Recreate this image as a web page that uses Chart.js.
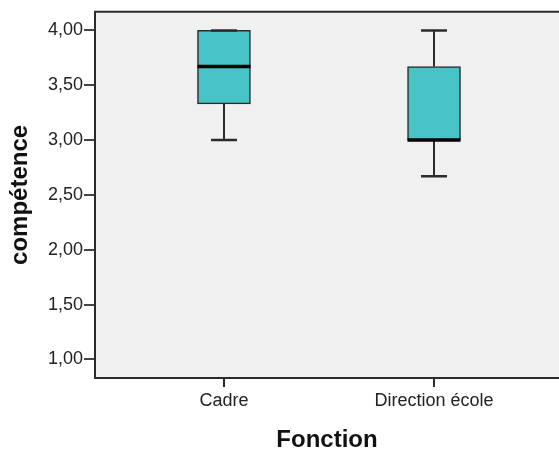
<!DOCTYPE html>
<html>
<head>
<meta charset="utf-8">
<script src="https://cdn.jsdelivr.net/npm/chart.js@4"></script>
<style>
  html, body { margin: 0; padding: 0; background: #fff; overflow: hidden; }
  #wrap { width: 559px; height: 452px; }
</style>
</head>
<body>
<div id="wrap"><canvas id="boxChart"></canvas></div>
<script>
// categories and five-number summaries
var categories = ["Cadre", "Direction école"];
var whiskerLow  = [3.00, 2.67];
var quart1      = [3.33, 3.00];
var medians     = [3.67, 3.00];
var quart3      = [4.00, 3.67];
var whiskerHigh = [4.00, 4.00];
var yTicks = [1.0, 1.5, 2.0, 2.5, 3.0, 3.5, 4.0];

var ink = '#2b2b2b';
var fam = 'Liberation Sans, Arial, sans-serif';

// plot background, frame, whiskers and medians, all placed through the scales
var boxParts = {
    id: 'boxParts',
    beforeDraw: function (chart) {
        var a = chart.chartArea, c = chart.ctx;
        c.save();
        c.fillStyle = '#f0f0f0';
        c.fillRect(a.left, a.top, a.right - a.left, a.bottom - a.top);
        c.restore();
    },
    beforeDatasetsDraw: function (chart) {
        var x = chart.scales.x, y = chart.scales.y, c = chart.ctx;
        c.save();
        c.strokeStyle = ink;
        c.lineWidth = 2;
        categories.forEach(function (cat, i) {
            var px = Math.round(x.getPixelForValue(i));
            c.beginPath();
            c.moveTo(px, y.getPixelForValue(whiskerHigh[i]));
            c.lineTo(px, y.getPixelForValue(quart3[i]));
            c.moveTo(px, y.getPixelForValue(quart1[i]));
            c.lineTo(px, y.getPixelForValue(whiskerLow[i]));
            c.stroke();
        });
        c.restore();
    },
    afterDatasetsDraw: function (chart) {
        var x = chart.scales.x, y = chart.scales.y, c = chart.ctx;
        c.save();
        categories.forEach(function (cat, i) {
            var px = Math.round(x.getPixelForValue(i));
            c.strokeStyle = ink;
            c.lineWidth = 2.5;
            c.beginPath();
            c.moveTo(px - 13, y.getPixelForValue(whiskerHigh[i]));
            c.lineTo(px + 13, y.getPixelForValue(whiskerHigh[i]));
            c.moveTo(px - 13, y.getPixelForValue(whiskerLow[i]));
            c.lineTo(px + 13, y.getPixelForValue(whiskerLow[i]));
            c.stroke();
            c.strokeStyle = '#000';
            c.lineWidth = 3.5;
            c.beginPath();
            c.moveTo(px - 26.5, y.getPixelForValue(medians[i]));
            c.lineTo(px + 26.5, y.getPixelForValue(medians[i]));
            c.stroke();
        });
        c.restore();
    },
    afterDraw: function (chart) {
        var a = chart.chartArea, c = chart.ctx;
        c.save();
        c.strokeStyle = ink;
        c.lineWidth = 2;
        c.beginPath();
        c.moveTo(a.right + 2, a.top);
        c.lineTo(a.left, a.top);
        c.lineTo(a.left, a.bottom);
        c.lineTo(a.right + 2, a.bottom);
        c.stroke();
        c.restore();
    }
};

var boxChart = document.getElementById('boxChart').getContext('2d');

var chart = new Chart(boxChart, {
    type: 'bar',
    data: {
        datasets: [{
            data: categories.map(function (c, i) { return { x: i, y: [quart1[i], quart3[i]] }; }),
            backgroundColor: '#48c3c6',
            borderColor: ink,
            borderWidth: 1.5,
            borderSkipped: false,
            barThickness: 53
        }]
    },
    plugins: [boxParts],
    options: {
        responsive: true,
        maintainAspectRatio: false,
        animation: false,
        layout: { padding: { top: 11, left: 0, right: 0, bottom: 0 } },
        plugins: { legend: { display: false }, tooltip: { enabled: false } },
        scales: {
            x: {
                type: 'linear',
                offset: false,
                min: -0.614,
                max: 1.595,
                afterBuildTicks: function (s) { s.ticks = categories.map(function (c, i) { return { value: i }; }); },
                afterFit: function (s) { s.height = 74; },
                border: { display: false },
                grid: { offset: false, drawOnChartArea: false, tickLength: 9, tickColor: ink, lineWidth: 2 },
                ticks: {
                    padding: 3,
                    color: '#222',
                    maxRotation: 0,
                    autoSkip: false,
                    font: { size: 18, family: fam },
                    callback: function (v) { return categories[v]; }
                },
                title: {
                    display: true,
                    text: 'Fonction',
                    color: '#111',
                    padding: { top: 0, bottom: 0 },
                    font: { size: 24, weight: 'bold', family: fam, lineHeight: 1 }
                }
            },
            y: {
                min: 0.83,
                max: 4.17,
                afterBuildTicks: function (s) { s.ticks = yTicks.map(function (v) { return { value: v }; }); },
                afterFit: function (s) { s.width = 95; },
                border: { display: false },
                grid: { drawOnChartArea: false, tickLength: 11, tickColor: '#444', lineWidth: 2 },
                ticks: {
                    padding: 1,
                    color: '#222',
                    font: { size: 18, family: fam },
                    callback: function (v) { return v.toFixed(2).replace('.', ','); }
                },
                title: {
                    display: true,
                    text: 'compétence',
                    color: '#111',
                    padding: { top: 6, bottom: 0 },
                    font: { size: 24, weight: 'bold', family: fam }
                }
            }
        }
    }
});
</script>
</body>
</html>
